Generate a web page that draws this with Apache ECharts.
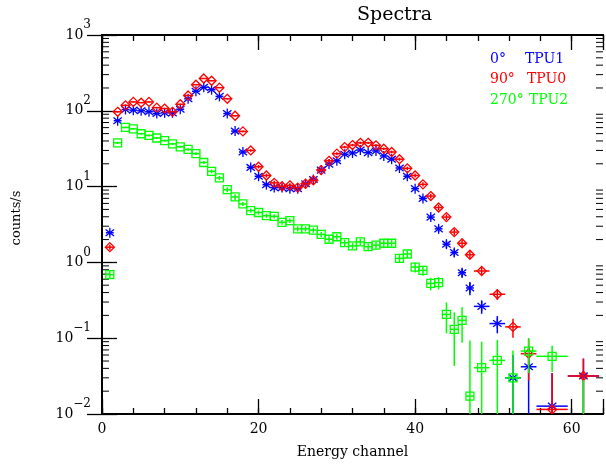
<!DOCTYPE html>
<html>
<head>
<meta charset="utf-8">
<script src="https://cdn.jsdelivr.net/npm/echarts@6/dist/echarts.min.js"></script>
<style>
  html, body { margin: 0; padding: 0; background: #fff; }
  #spectraChart { width: 606px; height: 464px; }
</style>
</head>
<body>
<div id="spectraChart"></div>
<script>
// channel centres and half bin widths (last bins are grouped)
const channels = [1, 2, 3, 4, 5, 6, 7, 8, 9, 10, 11, 12, 13, 14, 15, 16, 17, 18, 19, 20,
  21, 22, 23, 24, 25, 26, 27, 28, 29, 30, 31, 32, 33, 34, 35, 36, 37, 38, 39, 40,
  41, 42, 43, 44, 45, 46, 47, 48.5, 50.5, 52.5, 54.5, 57.5, 61.5];
const binHalf = [0.5, 0.5, 0.5, 0.5, 0.5, 0.5, 0.5, 0.5, 0.5, 0.5, 0.5, 0.5, 0.5, 0.5, 0.5, 0.5, 0.5, 0.5, 0.5, 0.5,
  0.5, 0.5, 0.5, 0.5, 0.5, 0.5, 0.5, 0.5, 0.5, 0.5, 0.5, 0.5, 0.5, 0.5, 0.5, 0.5, 0.5, 0.5, 0.5, 0.5,
  0.5, 0.5, 0.5, 0.5, 0.5, 0.5, 0.5, 1, 1, 1, 1, 2, 2];

// TPU1 (0 deg)
const tpu1 = [2.46, 74, 104, 102, 100, 97, 92, 94, 94, 105, 144, 181, 204, 190, 155, 92, 54, 28.6, 17.9, 13.7,
  10.6, 9.7, 9.7, 9.4, 9.4, 10.9, 12.4, 16.5, 19.8, 21.9, 26.7, 27.8, 30.4, 28.1, 29.5, 25.4, 23, 17.6, 13.7, 9.4,
  6.98, 3.96, 2.77, 1.74, 1.35, 0.73, 0.46, 0.263, 0.156, 0.030, 0.042, 0.0127, 0.0318];
const tpu1Err = [0.15, 2.0, 2.3, 2.3, 2.2, 2.2, 2.1, 2.1, 2.1, 2.3, 2.7, 3.0, 3.2, 3.1, 2.8, 2.2, 1.7, 1.2, 0.95, 0.85,
  0.75, 0.7, 0.7, 0.7, 0.7, 0.75, 0.8, 0.9, 1.0, 1.05, 1.15, 1.2, 1.25, 1.2, 1.2, 1.15, 1.1, 0.95, 0.85, 0.5,
  0.4, 0.3, 0.25, 0.2, 0.16, 0.1, 0.09, 0.053, 0.04, 0.03, 0.035, 0.022, 0.022];

// TPU0 (90 deg)
const tpu0 = [1.59, 97, 118, 131, 128, 131, 110, 107, 97, 122, 159, 221, 267, 249, 202, 144, 86, 53.5, 30, 18.3,
  14, 11.2, 10.1, 10.4, 9.7, 10.9, 12.1, 16.5, 21.9, 27.2, 33.2, 35.3, 37.8, 37.8, 35, 31.6, 28.6, 23, 17.4, 14,
  10.7, 7.5, 5.3, 3.96, 2.51, 1.79, 1.26, 0.77, 0.38, 0.141, 0.0625, 0.0115, 0.0318];
const tpu0Err = [0.12, 2.2, 2.4, 2.5, 2.5, 2.5, 2.3, 2.3, 2.2, 2.4, 2.8, 3.3, 3.6, 3.5, 3.1, 2.6, 2.0, 1.6, 1.2, 0.95,
  0.85, 0.75, 0.7, 0.7, 0.7, 0.75, 0.8, 0.9, 1.05, 1.15, 1.3, 1.35, 1.4, 1.4, 1.35, 1.3, 1.2, 1.1, 0.95, 0.85,
  0.7, 0.55, 0.45, 0.35, 0.25, 0.2, 0.15, 0.09, 0.06, 0.04, 0.035, 0.023, 0.022];

// TPU2 (270 deg)
const tpu2 = [0.69, 37.8, 60.3, 57.8, 49.8, 47.4, 43.8, 40.4, 36.6, 33.5, 30.9, 27.2, 20.8, 15.9, 13.0, 9.1, 7.3, 5.9, 4.83, 4.55,
  4.13, 4.05, 3.38, 3.56, 2.77, 2.77, 2.67, 2.34, 2.02, 2.18, 1.82, 1.65, 1.86, 1.61, 1.69, 1.79, 1.79, 1.13, 1.29, 0.867,
  0.785, 0.528, 0.54, 0.206, 0.131, 0.172, 0.0172, 0.0408, 0.051, 0.030, 0.0677, 0.0577, 0.004];
const tpu2Err = [0.08, 1.3, 1.6, 1.6, 1.5, 1.45, 1.4, 1.35, 1.3, 1.25, 1.2, 1.15, 1.0, 0.9, 0.8, 0.7, 0.62, 0.35, 0.3, 0.28,
  0.26, 0.26, 0.24, 0.24, 0.22, 0.22, 0.21, 0.2, 0.19, 0.19, 0.18, 0.18, 0.18, 0.18, 0.18, 0.18, 0.18, 0.15, 0.15, 0.13,
  0.12, 0.1, 0.1, 0.09, 0.088, 0.085, 0.076, 0.049, 0.044, 0.039, 0.033, 0.022, 0.024];

const yDecades = [0.01, 0.1, 1, 10, 100];
const yMantissas = [2, 3, 4, 5, 6, 7, 8, 9];

const legendRows = [
  { angle: "0°", name: "TPU1", color: "#0000ff" },
  { angle: "90°", name: "TPU0", color: "#ff0000" },
  { angle: "270°", name: "TPU2", color: "#00ff00" },
];

const FONT = "DejaVu Serif";
const X_MAX = 64;

function buildRows(values, errs) {
  return channels.map((c, i) => [c, values[i], binHalf[i], errs[i]]);
}

function markerShape(kind, cx, cy, color) {
  const st = { stroke: color, lineWidth: 1.3, fill: null };
  if (kind === "star") {
    return [
      { type: "line", shape: { x1: cx, y1: cy - 5, x2: cx, y2: cy + 5 }, style: st },
      { type: "line", shape: { x1: cx - 4.2, y1: cy - 3.3, x2: cx + 4.2, y2: cy + 3.3 }, style: st },
      { type: "line", shape: { x1: cx - 4.2, y1: cy + 3.3, x2: cx + 4.2, y2: cy - 3.3 }, style: st },
    ];
  }
  if (kind === "diamond") {
    return [{
      type: "polygon",
      shape: { points: [[cx, cy - 4.5], [cx + 4.5, cy], [cx, cy + 4.5], [cx - 4.5, cy]] },
      style: st,
    }];
  }
  return [{ type: "rect", shape: { x: cx - 4, y: cy - 4, width: 8, height: 8 }, style: st }];
}

function errRender(kind, color) {
  return function (params, api) {
    const x = api.value(0), y = api.value(1), hw = api.value(2), s = api.value(3);
    const c = api.coord([x, y]);
    const l = api.coord([x - hw, y]);
    const r = api.coord([x + hw, y]);
    const top = api.coord([x, y + s]);
    const bot = api.coord([x, y - s > 0 ? y - s : 1e-4]);
    const st = { stroke: color, lineWidth: 1.5 };
    const children = [
      { type: "line", shape: { x1: l[0], y1: c[1], x2: r[0], y2: c[1] }, style: st },
      { type: "line", shape: { x1: c[0], y1: top[1], x2: c[0], y2: bot[1] }, style: st },
    ].concat(markerShape(kind, c[0], c[1], color));
    return { type: "group", children: children };
  };
}

function minorTickRender(params, api) {
  const v = api.value(0);
  const a = api.coord([0, v]);
  const b = api.coord([X_MAX, v]);
  const st = { stroke: "#000", lineWidth: 1 };
  return {
    type: "group",
    children: [
      { type: "line", shape: { x1: a[0], y1: a[1], x2: a[0] + 7, y2: a[1] }, style: st },
      { type: "line", shape: { x1: b[0] - 7, y1: b[1], x2: b[0], y2: b[1] }, style: st },
    ],
  };
}

const minorTicks = [];
yDecades.forEach((d) => yMantissas.forEach((m) => minorTicks.push([m * d])));

function supLabel(value) {
  const e = Math.round(Math.log10(value));
  const txt = e < 0 ? "−" + Math.abs(e) : String(e);
  return "{b|10}{s|" + txt + "}";
}

const axisLineStyle = { show: true, lineStyle: { color: "#000", width: 2 } };

function xAxisDef(position, interval, tickLen, withLabels) {
  return {
    type: "value",
    position: position,
    min: 0,
    max: X_MAX,
    interval: interval,
    axisLine: axisLineStyle,
    axisTick: { show: true, inside: true, length: tickLen, lineStyle: { color: "#000", width: 1.3 } },
    axisLabel: withLabels
      ? {
          show: true, margin: 8, color: "#000", fontFamily: FONT, fontSize: 14,
          formatter: (v) => (v % 20 === 0 ? String(v) : ""),
        }
      : { show: false },
    splitLine: { show: false },
  };
}

function yAxisDef(position, withLabels) {
  return {
    type: "log",
    logBase: 10,
    position: position,
    min: 0.01,
    max: 1000,
    axisLine: axisLineStyle,
    axisTick: { show: true, inside: true, length: 15, lineStyle: { color: "#000", width: 1.3 } },
    axisLabel: withLabels
      ? {
          show: true, margin: 11, color: "#000", fontFamily: FONT,
          formatter: supLabel,
          rich: {
            b: { fontSize: 14, fontFamily: FONT, color: "#000", lineHeight: 40 },
            s: { fontSize: 12, fontFamily: FONT, color: "#000", lineHeight: 12, padding: [0, 0, 20, 0] },
          },
        }
      : { show: false },
    splitLine: { show: false },
  };
}

const chart = echarts.init(document.getElementById("spectraChart"));

const xAxes = [
  xAxisDef("bottom", 20, 15, true),
  xAxisDef("bottom", 4, 6, false),
  xAxisDef("top", 20, 15, false),
  xAxisDef("top", 4, 6, false),
];
xAxes[0].name = "Energy channel";
xAxes[0].nameLocation = "middle";
xAxes[0].nameGap = 31;
xAxes[0].nameTextStyle = { color: "#000", fontFamily: FONT, fontSize: 14 };

const yAxes = [yAxisDef("left", true), yAxisDef("right", false)];

const graphicTexts = [
  {
    type: "text", left: 357, top: 6,
    style: { text: "Spectra", fontFamily: FONT, fontSize: 19, fill: "#000", textAlign: "center" },
  },
  {
    type: "text", x: 17, y: 218, rotation: Math.PI / 2,
    style: { text: "counts/s", fontFamily: FONT, fontSize: 13, fill: "#000", textAlign: "center", textVerticalAlign: "middle" },
  },
];
legendRows.forEach((row, i) => {
  const y = 59 + i * 20.7;
  graphicTexts.push({
    type: "text", x: 490, y: y,
    style: { text: row.angle, fontFamily: FONT, fontSize: 14, fill: row.color, textVerticalAlign: "middle" },
  });
  graphicTexts.push({
    type: "text", x: 525 + i * 2, y: y,
    style: { text: row.name, fontFamily: FONT, fontSize: 14, fill: row.color, textVerticalAlign: "middle" },
  });
});

const option = {
  animation: false,
  backgroundColor: "#fff",
  grid: { left: 102, top: 35, width: 503, height: 386, containLabel: false },
  xAxis: xAxes,
  yAxis: yAxes,
  graphic: graphicTexts,
  series: [
    {
      name: "minor ticks",
      type: "custom",
      xAxisIndex: 0,
      yAxisIndex: 0,
      renderItem: minorTickRender,
      data: minorTicks,
      encode: { y: 0 },
      silent: true,
      clip: false,
    },
    {
      name: "TPU1",
      type: "custom",
      renderItem: errRender("star", "#0000ff"),
      data: buildRows(tpu1, tpu1Err),
      encode: { x: 0, y: 1 },
      clip: true,
    },
    {
      name: "TPU0",
      type: "custom",
      renderItem: errRender("diamond", "#ff0000"),
      data: buildRows(tpu0, tpu0Err),
      encode: { x: 0, y: 1 },
      clip: true,
    },
    {
      name: "TPU2",
      type: "custom",
      renderItem: errRender("square", "#00ff00"),
      data: buildRows(tpu2, tpu2Err),
      encode: { x: 0, y: 1 },
      clip: true,
    },
  ],
};

chart.setOption(option);
</script>
</body>
</html>
